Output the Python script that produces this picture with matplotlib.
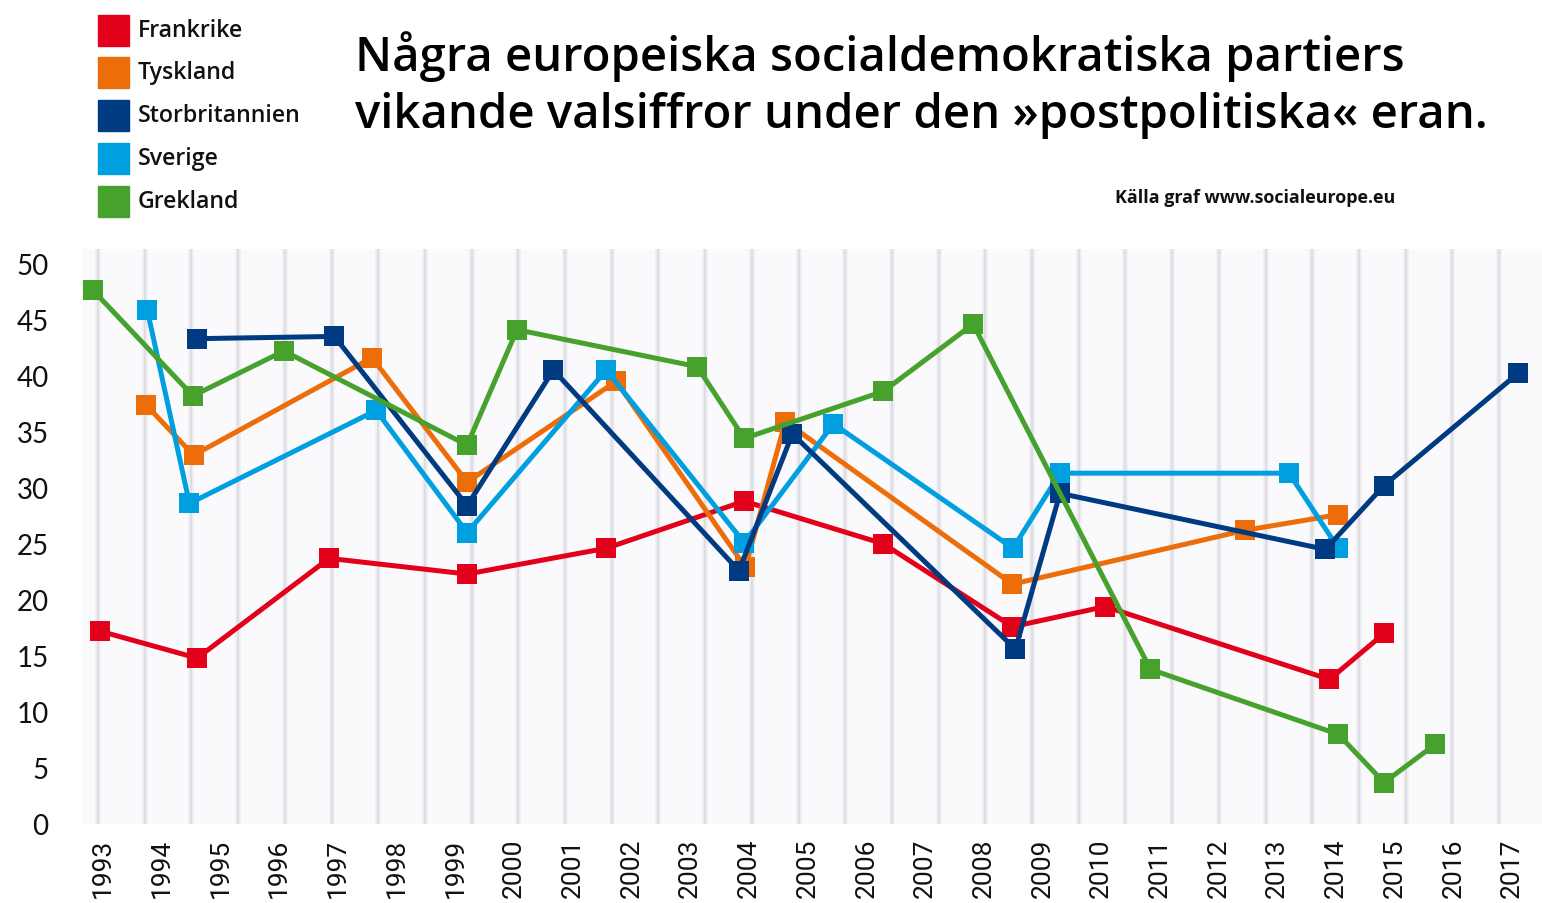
import matplotlib
matplotlib.use("Agg")
import matplotlib.pyplot as plt
from matplotlib import font_manager as fm
from matplotlib.patches import Rectangle

W, H = 1542, 904

# --- data (election results, % of vote) ---
years = list(range(1993, 2018))

fr_x = [1992.95, 1994.6, 1996.85, 1999.2, 2001.57, 2003.92, 2006.29, 2008.49, 2010.07, 2013.89, 2014.82]
fr_y = [17.2, 14.8, 23.7, 22.3, 24.6, 28.8, 25.0, 17.6, 19.4, 12.9, 17.0]

de_x = [1993.73, 1994.54, 1997.58, 1999.2, 2001.74, 2003.94, 2004.62, 2008.49, 2012.45, 2014.04]
de_y = [37.4, 32.9, 41.6, 30.5, 39.5, 22.9, 35.9, 21.4, 26.2, 27.6]

uk_x = [1994.6, 1996.94, 1999.2, 2000.67, 2003.83, 2004.74, 2008.54, 2009.3, 2013.82, 2014.82, 2017.1]
uk_y = [43.3, 43.5, 28.4, 40.5, 22.6, 34.8, 15.6, 29.5, 24.5, 30.2, 40.2]

se_x = [1993.75, 1994.47, 1997.65, 1999.2, 2001.57, 2003.92, 2005.44, 2008.5, 2009.3, 2013.2, 2014.04]
se_y = [45.9, 28.6, 36.9, 26.0, 40.5, 25.1, 35.7, 24.6, 31.3, 31.3, 24.6]

gr_x = [1992.83, 1994.53, 1996.08, 1999.2, 2000.05, 2003.12, 2003.92, 2006.29, 2007.82, 2010.84, 2014.04, 2014.82, 2015.69]
gr_y = [47.6, 38.2, 42.2, 33.8, 44.1, 40.8, 34.4, 38.6, 44.6, 13.8, 8.0, 3.7, 7.1]

names = ["Frankrike", "Tyskland", "Storbritannien", "Sverige", "Grekland"]
colors = ["#e2001a", "#ec6d0a", "#003a80", "#009fdf", "#46a12d"]

available = {f.name for f in fm.fontManager.ttflist}
def pick(*fams):
    for f in fams:
        if f in available:
            return f
    return "DejaVu Sans"

num_font = pick("Lato", "Open Sans", "DejaVu Sans")
head_font = pick("Open Sans", "Lato", "DejaVu Sans")
narrow_font = pick("Liberation Sans Narrow", "Roboto", "Lato")

def fx(px):
    return px / W

def fy(py):
    return 1 - py / H

fig = plt.figure(figsize=(W / 100, H / 100), dpi=100)
ax = fig.add_axes([fx(82), fy(825), fx(1542) - fx(82), fy(250) - fy(825)])
ax.set_facecolor("#fafafc")

# striped background
k = 0
while True:
    xs = (98 + k * 46.7 - 82) / 1460
    if xs > 1:
        break
    ax.plot([xs, xs], [0, 1], transform=ax.transAxes, color="#eeeef2", lw=4, zorder=0)
    ax.plot([xs, xs], [0, 1], transform=ax.transAxes, color="#dcdce2", lw=1.3, zorder=0)
    k += 1

series = [(fr_x, fr_y), (de_x, de_y), (se_x, se_y), (uk_x, uk_y), (gr_x, gr_y)]
order = [0, 1, 3, 2, 4]
for i, (xs, ys) in enumerate(series):
    c = colors[order[i]]
    ax.plot(xs, ys, color=c, lw=3.6, marker="s", markersize=13.7,
            markeredgewidth=0, zorder=2 + i, solid_joinstyle="miter")

ax.set_xlim(1992.64, 2017.51)
ax.set_ylim(0, 51.3)
ax.set_xticks(years)
ax.set_xticklabels([str(y) for y in years], rotation=90, fontsize=19,
                   family=narrow_font, color="#111111")
ax.set_yticks(range(0, 51, 5))
ax.set_yticklabels([str(v) for v in range(0, 51, 5)], fontsize=20,
                   family=num_font, color="#111111")
ax.tick_params(axis="x", length=0, pad=10)
ax.tick_params(axis="y", length=0, pad=24)
for s in ax.spines.values():
    s.set_visible(False)

# legend
rows = [31, 73, 116, 159, 202]
for name, c, yc in zip(names, colors, rows):
    fig.patches.append(Rectangle((fx(98), fy(yc + 15.5)), fx(31), 31 / H,
                                 transform=fig.transFigure, color=c))
    fig.text(fx(138), fy(yc), name, fontsize=16.7, fontweight="semibold",
             family=head_font, va="center", ha="left", color="#111111")

# title
fig.text(fx(355), fy(71), "Några europeiska socialdemokratiska partiers",
         fontsize=34, fontweight="semibold", family=head_font, va="baseline", color="#000000")
fig.text(fx(355), fy(128), "vikande valsiffror under den »postpolitiska« eran.",
         fontsize=34, fontweight="semibold", family=head_font, va="baseline", color="#000000")

fig.text(fx(1115), fy(203), "Källa graf www.socialeurope.eu", fontsize=12.9,
         fontweight="bold", family=head_font, va="baseline", color="#111111")

fig.savefig("out.png", dpi=100, facecolor="white")
